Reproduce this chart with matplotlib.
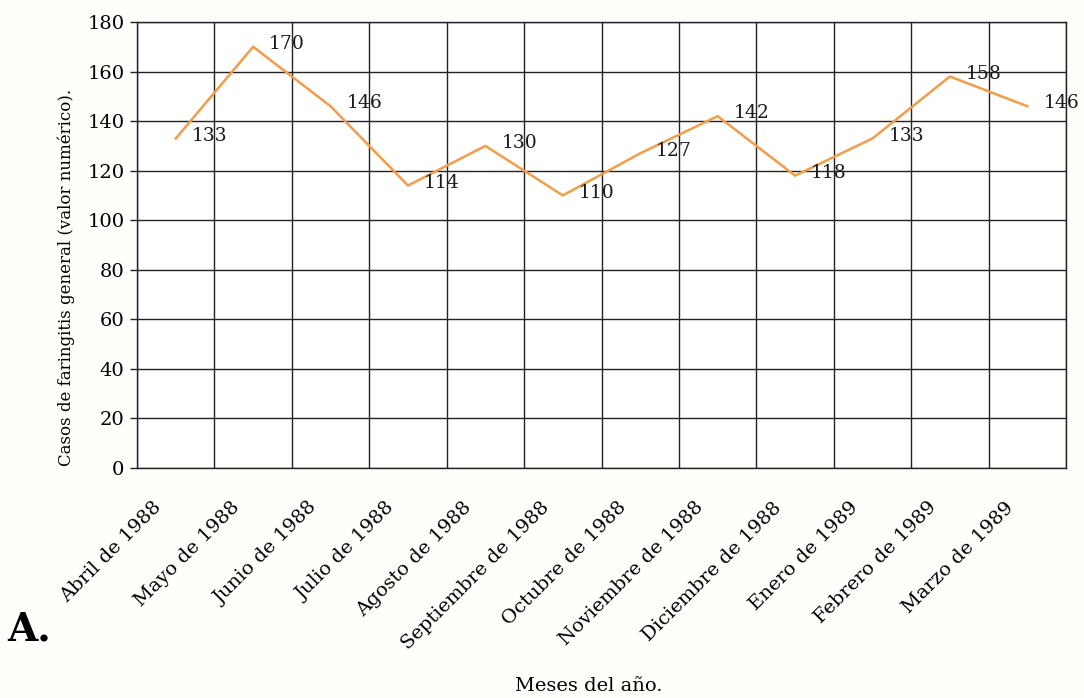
import matplotlib
matplotlib.use("Agg")
import matplotlib.pyplot as plt
import matplotlib.transforms as mtransforms
import numpy as np

# casos mensuales de faringitis, abril 1988 - marzo 1989
meses = ["Abril de 1988", "Mayo de 1988", "Junio de 1988", "Julio de 1988",
         "Agosto de 1988", "Septiembre de 1988", "Octubre de 1988",
         "Noviembre de 1988", "Diciembre de 1988", "Enero de 1989",
         "Febrero de 1989", "Marzo de 1989"]
casos = [133, 170, 146, 114, 130, 110, 127, 142, 118, 133, 158, 146]
yticks = [0, 20, 40, 60, 80, 100, 120, 140, 160, 180]

plt.rcParams['font.family'] = ['DejaVu Serif']

fig = plt.figure(figsize=(10.84, 6.98), dpi=100)
fig.patch.set_facecolor('#fefefb')
ax = fig.add_axes([0.1264, 0.3295, 0.8570, 0.6390])
ax.set_facecolor('white')

x = np.arange(len(meses))
ax.plot(x, casos, color='#f49c48', linewidth=1.8, zorder=3)

for xi, v in zip(x, casos):
    ax.annotate(str(v), (xi, v), xytext=(11.5, 2), textcoords='offset points',
                ha='left', va='center', fontsize=13.5, color='#1a1a1a', zorder=4)

ax.set_xlim(-0.5, len(meses) - 0.5)
ax.set_ylim(0, 180)
ax.set_yticks(yticks)

# cuadricula en los bordes de cada mes
ax.set_xticks(x)
ax.set_xticks(np.arange(-0.5, len(meses), 1.0), minor=True)
ax.grid(True, which='minor', axis='x', color='#222222', linewidth=1.0)
ax.grid(True, which='major', axis='y', color='#222222', linewidth=1.0)
ax.tick_params(axis='x', which='both', length=0, pad=6)
ax.tick_params(axis='y', length=5, width=1.0, color='#222222', labelsize=14, pad=4)
ax.set_xticklabels(meses, rotation=45, ha='right', rotation_mode='anchor',
                   fontsize=14)
shift = mtransforms.ScaledTranslation(-0.23, -0.22, fig.dpi_scale_trans)
for lbl in ax.get_xticklabels():
    lbl.set_transform(lbl.get_transform() + shift)
for s in ax.spines.values():
    s.set_color('#222222')
    s.set_linewidth(1.0)

ax.set_ylabel("Casos de faringitis general (valor numérico).", fontsize=12)
ax.yaxis.set_label_coords(-0.067, 0.428)
fig.text(0.543, 0.004, "Meses del año.", ha='center', va='bottom', fontsize=14)
fig.text(0.007, 0.071, "A.", ha='left', va='bottom', fontsize=28, fontweight='bold')

fig.savefig("out.png", dpi=100, facecolor=fig.get_facecolor())
